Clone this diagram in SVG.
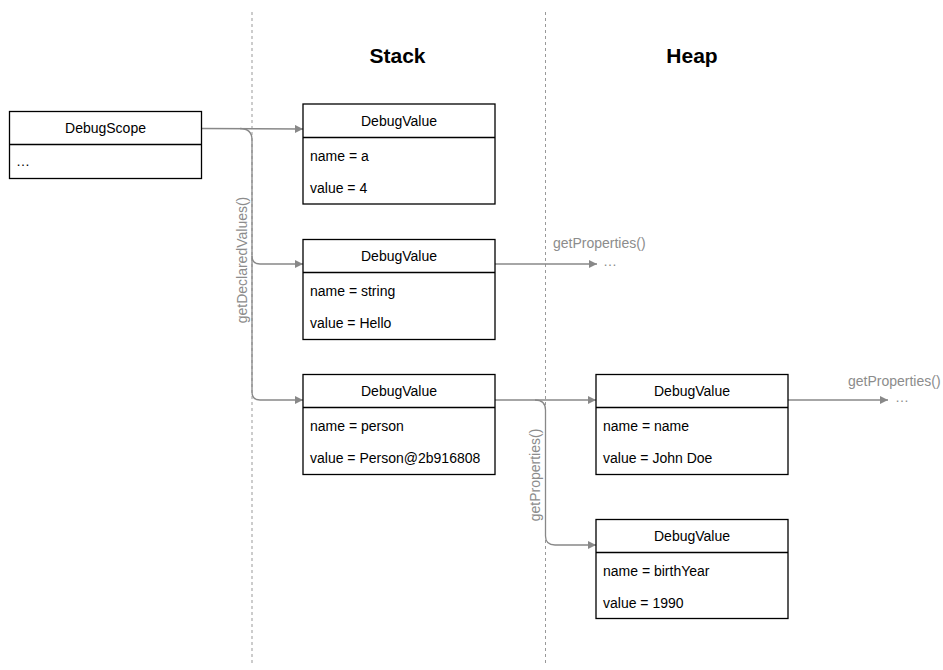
<svg xmlns="http://www.w3.org/2000/svg" width="943" height="670" viewBox="0 0 943 670">
  <defs>
    <marker id="arrow" viewBox="0 0 10 10" refX="10" refY="5" markerWidth="10" markerHeight="8" markerUnits="userSpaceOnUse" orient="auto">
      <path d="M0,0 L10,5 L0,10 z" fill="#888888"/>
    </marker>
  </defs>
  <style>
    text { font-family: "Liberation Sans", Arial, sans-serif; font-size: 14px; fill: #000; }
    .title { font-size: 21px; font-weight: bold; text-anchor: middle; }
    .hdr { text-anchor: middle; }
    .lbl { fill: #8c8c8c; }
    .box { fill: #fff; stroke: #000; stroke-width: 1.3; }
    .div { stroke: #000; stroke-width: 1.3; }
    .sep { stroke: #999; stroke-width: 1; stroke-dasharray: 3 3; fill: none; }
    .conn { stroke: #888888; stroke-width: 1.3; fill: none; }
  </style>
  <rect width="943" height="670" fill="#ffffff"/>

  <g id="separators">
    <line class="sep" x1="252" y1="12" x2="252" y2="666"/>
    <line class="sep" x1="545.5" y1="12" x2="545.5" y2="666"/>
  </g>

  <g id="titles">
    <text class="title" x="397.5" y="62.5">Stack</text>
    <text class="title" x="692" y="62.5">Heap</text>
  </g>

  <g id="connectors">
    <path class="conn" d="M201,128.5 L303,129" marker-end="url(#arrow)"/>
    <path class="conn" d="M240,128.5 Q252,128.5 252,140 L252,256 Q252,264 260,264 L303,264" marker-end="url(#arrow)"/>
    <path class="conn" d="M252,256 L252,392 Q252,400 260,400 L303,400" marker-end="url(#arrow)"/>
    <text class="lbl" transform="translate(247,260) rotate(-90)" text-anchor="middle">getDeclaredValues()</text>

    <path class="conn" d="M495,264 L597,264" marker-end="url(#arrow)"/>
    <text class="lbl" x="553" y="248">getProperties()</text>
    <text class="lbl" x="603" y="266">…</text>

    <path class="conn" d="M495,400 L596,400" marker-end="url(#arrow)"/>
    <path class="conn" d="M535,400 Q545.5,400 545.5,410 L545.5,536 Q545.5,545 555,545 L596,545" marker-end="url(#arrow)"/>
    <text class="lbl" transform="translate(540,475) rotate(-90)" text-anchor="middle">getProperties()</text>

    <path class="conn" d="M788,400 L888,400" marker-end="url(#arrow)"/>
    <text class="lbl" x="848" y="386">getProperties()</text>
    <text class="lbl" x="895" y="402">…</text>
  </g>

  <g id="debugScope">
    <rect class="box" x="9.5" y="111.5" width="192" height="67"/>
    <line class="div" x1="9.5" y1="144.5" x2="201.5" y2="144.5"/>
    <text class="hdr" x="105.5" y="133">DebugScope</text>
    <text x="16" y="166">…</text>
  </g>

  <g id="stackA">
    <rect class="box" x="303" y="104" width="192" height="100"/>
    <line class="div" x1="303" y1="137.5" x2="495" y2="137.5"/>
    <text class="hdr" x="399" y="126">DebugValue</text>
    <text x="310" y="161">name = a</text>
    <text x="310" y="193">value = 4</text>
  </g>

  <g id="stackString">
    <rect class="box" x="303" y="239.5" width="192" height="100"/>
    <line class="div" x1="303" y1="272.5" x2="495" y2="272.5"/>
    <text class="hdr" x="399" y="261">DebugValue</text>
    <text x="310" y="296">name = string</text>
    <text x="310" y="328">value = Hello</text>
  </g>

  <g id="stackPerson">
    <rect class="box" x="303" y="374.5" width="192" height="100"/>
    <line class="div" x1="303" y1="407.5" x2="495" y2="407.5"/>
    <text class="hdr" x="399" y="396">DebugValue</text>
    <text x="310" y="431">name = person</text>
    <text x="310" y="463">value = Person@2b916808</text>
  </g>

  <g id="heapName">
    <rect class="box" x="596" y="374.5" width="192" height="100"/>
    <line class="div" x1="596" y1="407.5" x2="788" y2="407.5"/>
    <text class="hdr" x="692" y="396">DebugValue</text>
    <text x="603" y="431">name = name</text>
    <text x="603" y="463">value = John Doe</text>
  </g>

  <g id="heapBirthYear">
    <rect class="box" x="596" y="519.5" width="192" height="99"/>
    <line class="div" x1="596" y1="552.5" x2="788" y2="552.5"/>
    <text class="hdr" x="692" y="541">DebugValue</text>
    <text x="603" y="576">name = birthYear</text>
    <text x="603" y="608">value = 1990</text>
  </g>
</svg>
